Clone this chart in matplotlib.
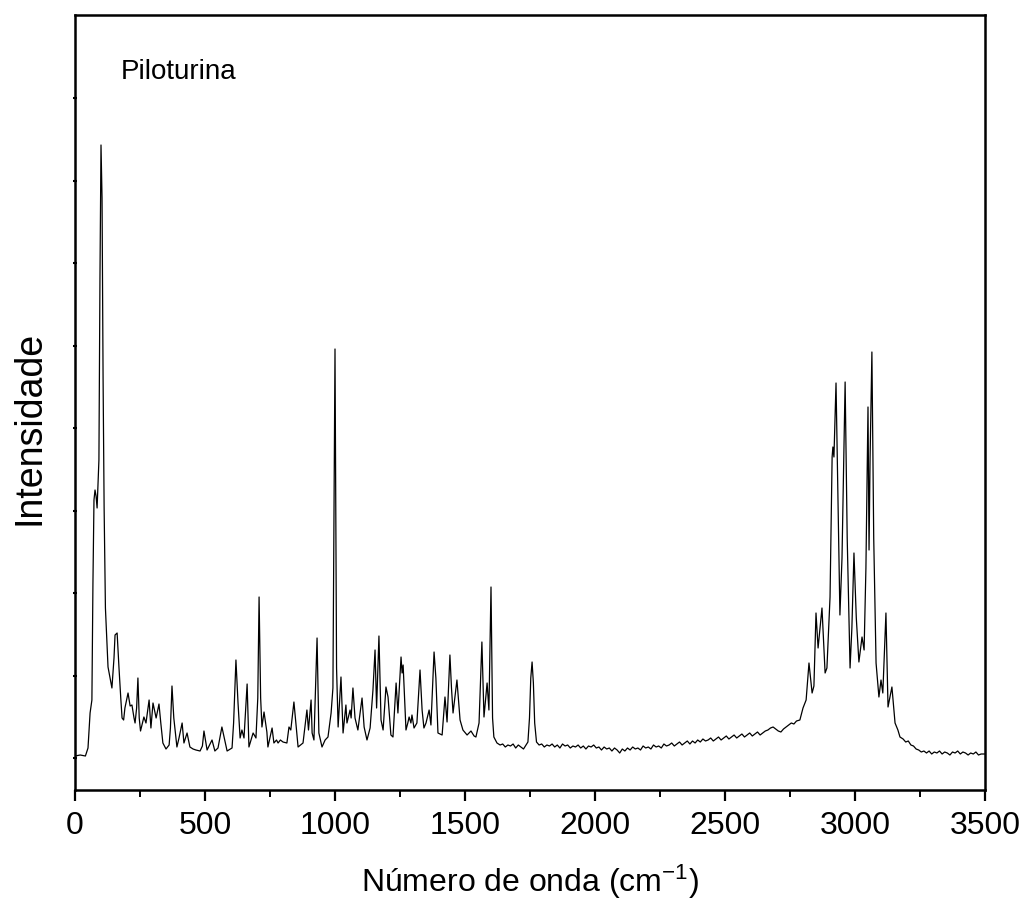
import matplotlib
matplotlib.use("Agg")
import matplotlib.pyplot as plt
from matplotlib.ticker import MultipleLocator

plt.rcParams['font.family'] = ['Liberation Sans', 'DejaVu Sans']
plt.rcParams['mathtext.fontset'] = 'custom'
plt.rcParams['mathtext.rm'] = 'Liberation Sans'
plt.rcParams['mathtext.it'] = 'Liberation Sans:italic'

# Raman shift (cm-1) and intensity (a.u.)
# --- low-frequency / fingerprint region (0-1635 cm-1)
x_fingerprint = [
    0, 20, 40, 50, 58, 65, 69, 73, 77, 81, 85, 92, 96, 100, 104, 108, 112, 117,
    123, 127, 135, 142, 150, 154, 162, 169, 176, 181, 187, 192, 204, 212, 219,
    227, 231, 237, 242, 247, 252, 265, 273, 285, 292, 300, 312, 323, 330, 338,
    350, 362, 367, 373, 380, 392, 400, 412, 419, 431, 442, 454, 465, 481, 490,
    496, 508, 527, 538, 550, 565, 585, 604, 610, 619, 627, 635, 642, 650, 662,
    669, 685, 696, 703, 708, 714, 719, 727, 738, 742, 758, 765, 775, 781, 790,
    800, 815, 823, 830, 842, 858, 877, 892, 898, 908, 912, 919, 931, 938, 950,
    962, 973, 985, 992, 1000, 1006, 1012, 1023, 1031, 1042, 1046, 1058, 1062,
    1069, 1077, 1088, 1104, 1112, 1123, 1135, 1146, 1154, 1160, 1169, 1177,
    1185, 1196, 1204, 1215, 1223, 1235, 1242, 1254, 1258, 1262, 1273, 1280,
    1285, 1292, 1296, 1304, 1315, 1327, 1335, 1342, 1350, 1362, 1369, 1381,
    1388, 1396, 1412, 1423, 1431, 1442, 1448, 1454, 1469, 1481, 1492, 1508,
    1523, 1535, 1542, 1554, 1565, 1573, 1585, 1592, 1600, 1606, 1611, 1623,
    1635,
]
i_fingerprint = [
    2, 3, 2, 10, 45, 58, 175, 258, 268, 262, 250, 298, 480, 613, 560, 380, 250,
    150, 115, 91, 80, 70, 100, 123, 125, 91, 60, 40, 38, 50, 65, 52, 53, 40,
    35, 50, 80, 40, 27, 41, 35, 58, 30, 55, 40, 54, 35, 15, 9, 13, 30, 72, 40,
    11, 20, 35, 15, 25, 11, 9, 8, 7, 12, 27, 8, 18, 7, 10, 31, 7, 10, 35, 98,
    55, 20, 28, 20, 74, 11, 25, 20, 60, 161, 60, 31, 46, 26, 11, 30, 15, 18,
    15, 18, 16, 15, 31, 28, 56, 11, 15, 48, 28, 58, 25, 18, 120, 25, 11, 18,
    21, 45, 70, 409, 90, 31, 81, 25, 53, 35, 48, 40, 70, 40, 28, 60, 31, 18,
    30, 68, 108, 50, 122, 38, 28, 71, 61, 23, 21, 75, 45, 101, 85, 93, 28, 35,
    41, 35, 43, 30, 35, 88, 48, 30, 35, 48, 33, 106, 80, 25, 23, 61, 36, 103,
    70, 45, 78, 38, 28, 23, 27, 22, 21, 35, 116, 41, 75, 48, 171, 40, 21, 15,
    13,
]

# --- noisy baseline with the 1760 cm-1 band (1645-2788 cm-1)
x_baseline = [
    1645, 1655, 1665, 1675, 1685, 1695, 1705, 1715, 1725, 1735, 1742, 1748,
    1753, 1758, 1763, 1768, 1775, 1785, 1795, 1805, 1815, 1825, 1835, 1845,
    1855, 1865, 1875, 1885, 1895, 1905, 1915, 1925, 1935, 1945, 1955, 1965,
    1975, 1985, 1995, 2005, 2015, 2025, 2035, 2045, 2055, 2065, 2075, 2085,
    2095, 2105, 2115, 2125, 2135, 2145, 2155, 2165, 2175, 2185, 2195, 2205,
    2215, 2225, 2235, 2245, 2255, 2265, 2275, 2285, 2295, 2305, 2315, 2325,
    2335, 2345, 2355, 2365, 2375, 2385, 2395, 2405, 2415, 2425, 2435, 2445,
    2455, 2465, 2475, 2485, 2495, 2505, 2515, 2525, 2535, 2545, 2555, 2565,
    2575, 2585, 2595, 2605, 2615, 2625, 2635, 2645, 2655, 2665, 2675, 2685,
    2695, 2705, 2715, 2725, 2735, 2745, 2755, 2765, 2775, 2788,
]
i_baseline = [
    14, 11, 13, 12, 14, 10, 13, 11, 9, 13, 16, 40,
    80, 96, 75, 35, 16, 13, 14, 11, 13, 12, 14, 11,
    13, 10, 14, 12, 13, 10, 12, 11, 13, 10, 12, 9,
    12, 11, 13, 10, 11, 8, 11, 9, 10, 7, 10, 8,
    5, 9, 7, 10, 8, 11, 9, 10, 8, 12, 10, 11,
    9, 13, 11, 12, 10, 14, 12, 13, 15, 12, 14, 16,
    13, 15, 17, 14, 17, 15, 18, 16, 19, 17, 18, 20,
    17, 19, 21, 18, 20, 22, 19, 21, 23, 20, 22, 24,
    21, 23, 25, 22, 24, 26, 23, 25, 27, 28, 30, 31,
    29, 27, 26, 29, 31, 33, 35, 34, 37, 38,
]

# --- C-H stretching region and tail (2800-3500 cm-1)
x_ch = [
    2800, 2812, 2823, 2835, 2842, 2850, 2858, 2873, 2885, 2892, 2904, 2912,
    2915, 2919, 2927, 2933, 2942, 2950, 2962, 2970, 2981, 2988, 2996, 3005,
    3015, 3027, 3035, 3042, 3050, 3054, 3058, 3065, 3072, 3081, 3092, 3100,
    3107, 3119, 3127, 3142, 3154, 3165, 3173, 3185, 3195, 3205, 3215, 3225,
    3235, 3245, 3255, 3265, 3275, 3285, 3295, 3305, 3315, 3325, 3335, 3345,
    3355, 3365, 3375, 3385, 3395, 3405, 3415, 3425, 3435, 3445, 3455, 3465,
    3475, 3485, 3500,
]
i_ch = [
    50, 58, 95, 65, 72, 145, 110, 150, 85, 90, 161, 301,
    311, 301, 375, 280, 143, 200, 376, 220, 90, 130, 205, 140,
    96, 121, 108, 190, 351, 208, 300, 406, 220, 95, 61, 78,
    65, 145, 51, 71, 35, 28, 21, 19, 16, 17, 13, 12,
    9, 8, 6, 7, 5, 7, 4, 6, 5, 7, 4, 6,
    5, 3, 6, 5, 7, 4, 6, 5, 3, 5, 4, 6,
    3, 4, 4,
]

wavenumber = x_fingerprint + x_baseline + x_ch
intensity = i_fingerprint + i_baseline + i_ch

x_major = [0, 500, 1000, 1500, 2000, 2500, 3000, 3500]

fig = plt.figure(figsize=(10.19, 9.18), dpi=100)
ax = fig.add_axes([75/1019, 128/918, 910/1019, 775/918])

ax.plot(wavenumber, intensity, color='black', lw=0.9)

ax.set_xlim(0, 3500)
ax.set_ylim(-32, 743)
ax.set_xticks(x_major)
ax.set_xticklabels([str(v) for v in x_major])
ax.xaxis.set_minor_locator(MultipleLocator(250))
ax.set_yticks([82.5 * k for k in range(9)])
ax.set_yticklabels([])

for s in ax.spines.values():
    s.set_linewidth(1.8)

ax.tick_params(axis='x', which='major', direction='out', length=8, width=1.6,
               labelsize=23, pad=7, top=False)
ax.tick_params(axis='x', which='minor', direction='out', length=5, width=1.4,
               top=False)
ax.tick_params(axis='y', which='major', direction='inout', length=3, width=1.5,
               right=False)

ax.set_xlabel('Número de onda (cm$^{\\mathregular{-1}}$)', fontsize=23, labelpad=16)
ax.set_ylabel('Intensidade', fontsize=27)
ax.yaxis.set_label_coords(-0.030, 0.467)

ax.text(0.050, 0.926, 'Piloturina', transform=ax.transAxes, fontsize=20,
        ha='left', va='center')

fig.savefig('out.png', dpi=100)
